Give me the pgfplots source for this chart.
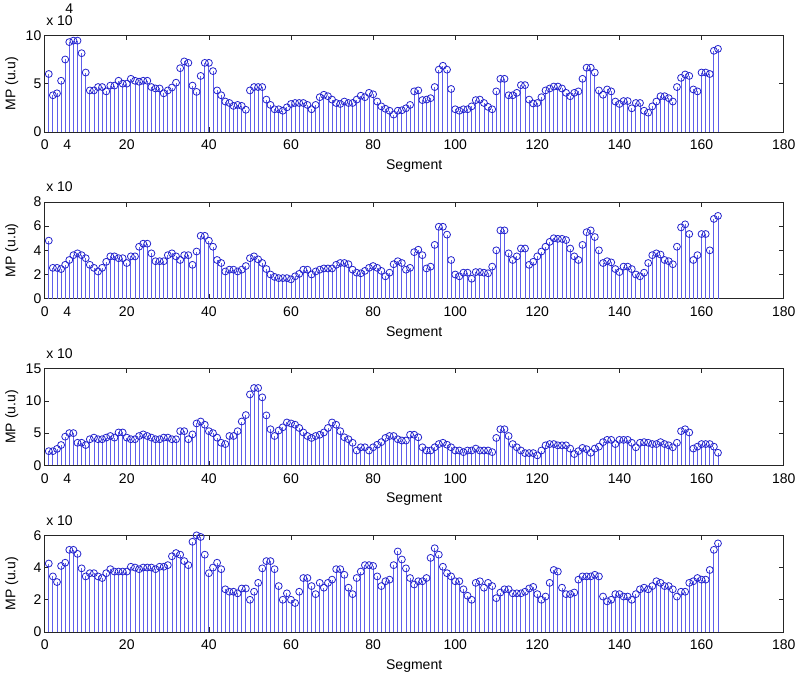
\documentclass[border=0pt]{standalone}
\usepackage{fontspec}
\setmainfont{Liberation Sans}
\usepackage{pgfplots}
\pgfplotsset{compat=1.18}
\definecolor{stemc}{RGB}{95,95,235}
\definecolor{mkc}{RGB}{35,35,205}
\newcommand{\fs}{\fontsize{10.5}{12}\selectfont}
\pgfplotsset{mp/.style={
  scale only axis, width=554.25pt, height=72.5pt, anchor=south west,
  xmin=0, xmax=180, ymin=0,
  tick align=inside, major tick length=3.5pt,
  axis line style={black!85, line width=0.5pt},
  every tick/.style={black!85, line width=0.5pt},
  tick label style={font=\fs},
  xticklabel style={yshift=-2.5pt},
  yticklabel style={xshift=1pt},
  label style={font=\fs},
  /pgf/number format/assume math mode=true,
  scaled y ticks=false,
  xlabel={Segment}, ylabel={MP (u.u)},
  xlabel style={at={(rel axis cs:0.5,0)}, anchor=center, yshift=-25.5pt},
  ylabel style={at={([xshift=-24.75pt]rel axis cs:0,0.5)}, anchor=center},
  clip=false,
},
mpstem/.style={ycomb, draw=stemc, color=stemc, line width=0.65pt, mark=o, mark size=2.6pt,
  mark options={solid, draw=mkc, line width=0.6pt, fill=none}},
fourtick/.style={xtick={0,20,40,60,80,100,120,140,160,180},
  extra x ticks={5.5}, extra x tick labels={4},
  extra x tick style={major tick length=0pt}}
}
\begin{document}
\begin{tikzpicture}
\path[use as bounding box] (0,0) rectangle (598.5pt,505.5pt);
% ---------------- panel 1
\begin{axis}[mp, fourtick, at={(33.5pt,406.5pt)}, ymax=10, ytick={0,5,10}]
\addplot[mpstem] coordinates {
(1,6.0)(2,3.8)(3,4.0)(4,5.3)(5,7.5)(6,9.3)(7,9.45)(8,9.45)(9,8.15)(10,6.15)
(11,4.3)(12,4.3)(13,4.65)(14,4.65)(15,4.2)(16,4.8)(17,4.8)(18,5.3)(19,5.0)(20,5.0)
(21,5.5)(22,5.3)(23,5.2)(24,5.3)(25,5.3)(26,4.65)(27,4.5)(28,4.5)(29,4.0)(30,4.3)
(31,4.6)(32,5.1)(33,6.6)(34,7.3)(35,7.15)(36,4.8)(37,4.15)(38,5.8)(39,7.15)(40,7.15)
(41,6.3)(42,4.3)(43,3.8)(44,3.15)(45,3.0)(46,2.7)(47,2.8)(48,2.7)(49,2.3)(50,4.3)
(51,4.65)(52,4.65)(53,4.65)(54,3.35)(55,2.8)(56,2.35)(57,2.35)(58,2.2)(59,2.55)(60,2.9)
(61,3.0)(62,3.0)(63,3.0)(64,2.8)(65,2.35)(66,2.8)(67,3.6)(68,3.85)(69,3.7)(70,3.35)
(71,3.0)(72,2.9)(73,3.15)(74,3.0)(75,3.0)(76,3.35)(77,3.75)(78,3.6)(79,4.05)(80,3.9)
(81,3.15)(82,2.65)(83,2.4)(84,2.2)(85,1.8)(86,2.2)(87,2.25)(88,2.45)(89,2.8)(90,4.2)
(91,4.3)(92,3.3)(93,3.35)(94,3.5)(95,4.65)(96,6.45)(97,6.85)(98,6.45)(99,4.45)(100,2.35)
(101,2.2)(102,2.35)(103,2.35)(104,2.65)(105,3.3)(106,3.35)(107,3.0)(108,2.6)(109,2.35)(110,4.2)
(111,5.5)(112,5.5)(113,3.8)(114,3.8)(115,4.05)(116,4.85)(117,4.85)(118,3.35)(119,2.95)(120,3.0)
(121,3.6)(122,4.3)(123,4.5)(124,4.7)(125,4.7)(126,4.5)(127,4.05)(128,3.7)(129,4.05)(130,4.2)
(131,5.5)(132,6.65)(133,6.65)(134,6.15)(135,4.3)(136,3.85)(137,4.4)(138,4.2)(139,3.15)(140,2.9)
(141,3.2)(142,3.2)(143,2.45)(144,3.0)(145,3.0)(146,2.2)(147,2.0)(148,2.65)(149,3.15)(150,3.7)
(151,3.7)(152,3.5)(153,3.15)(154,4.65)(155,5.6)(156,5.95)(157,5.8)(158,4.4)(159,4.2)(160,6.15)
(161,6.15)(162,6.0)(163,8.4)(164,8.6)};
\node[anchor=base west, inner sep=0pt, font=\fs] at (rel axis cs:0,1) [xshift=1pt, yshift=7.5pt] {x 10};
\node[anchor=base, inner sep=0pt, font=\fs] at (rel axis cs:0,1) [xshift=18.5pt, yshift=16.5pt] {4};
\end{axis}
% ---------------- panel 2
\begin{axis}[mp, fourtick, at={(33.5pt,281.5pt)}, ymax=8, ytick={0,2,4,6,8}]
\addplot[mpstem] coordinates {
(1,4.8)(2,2.55)(3,2.55)(4,2.45)(5,2.8)(6,3.2)(7,3.6)(8,3.75)(9,3.6)(10,3.35)
(11,2.8)(12,2.55)(13,2.25)(14,2.55)(15,3.05)(16,3.5)(17,3.5)(18,3.35)(19,3.35)(20,2.95)
(21,3.5)(22,3.5)(23,4.3)(24,4.55)(25,4.55)(26,3.75)(27,3.1)(28,3.1)(29,3.1)(30,3.6)
(31,3.75)(32,3.5)(33,3.2)(34,3.6)(35,3.6)(36,2.8)(37,3.9)(38,5.2)(39,5.2)(40,4.8)
(41,4.3)(42,3.2)(43,2.95)(44,2.25)(45,2.4)(46,2.4)(47,2.25)(48,2.4)(49,2.7)(50,3.35)
(51,3.5)(52,3.25)(53,2.95)(54,2.45)(55,2.0)(56,1.8)(57,1.7)(58,1.7)(59,1.7)(60,1.6)
(61,1.85)(62,2.05)(63,2.4)(64,2.4)(65,2.0)(66,2.25)(67,2.4)(68,2.5)(69,2.5)(70,2.5)
(71,2.8)(72,2.95)(73,2.95)(74,2.85)(75,2.4)(76,2.15)(77,2.1)(78,2.3)(79,2.55)(80,2.7)
(81,2.55)(82,2.3)(83,1.85)(84,2.15)(85,2.85)(86,3.1)(87,2.95)(88,2.4)(89,2.55)(90,3.85)
(91,4.05)(92,3.6)(93,2.5)(94,2.65)(95,4.45)(96,5.95)(97,5.95)(98,5.3)(99,3.2)(100,2.0)
(101,1.85)(102,2.15)(103,2.15)(104,1.65)(105,2.2)(106,2.2)(107,2.15)(108,2.1)(109,2.65)(110,4.0)
(111,5.65)(112,5.65)(113,3.75)(114,3.2)(115,3.5)(116,4.15)(117,4.15)(118,2.8)(119,3.05)(120,3.5)
(121,3.9)(122,4.3)(123,4.7)(124,5.0)(125,4.95)(126,4.95)(127,4.85)(128,4.15)(129,3.5)(130,3.2)
(131,4.45)(132,5.5)(133,5.65)(134,5.1)(135,4.0)(136,2.95)(137,3.1)(138,3.0)(139,2.45)(140,2.2)
(141,2.65)(142,2.65)(143,2.45)(144,2.0)(145,1.85)(146,2.15)(147,2.95)(148,3.6)(149,3.75)(150,3.65)
(151,3.2)(152,3.1)(153,2.85)(154,4.3)(155,5.9)(156,6.15)(157,5.35)(158,3.2)(159,3.6)(160,5.35)
(161,5.35)(162,4.0)(163,6.6)(164,6.85)};
\node[anchor=base west, inner sep=0pt, font=\fs] at (rel axis cs:0,1) [xshift=1pt, yshift=7.5pt] {x 10};
\end{axis}
% ---------------- panel 3
\begin{axis}[mp, fourtick, at={(33.5pt,156.5pt)}, ymax=15, ytick={0,5,10,15}]
\addplot[mpstem] coordinates {
(1,2.2)(2,2.2)(3,2.55)(4,3.15)(5,4.45)(6,5.0)(7,5.0)(8,3.5)(9,3.5)(10,3.15)
(11,4.05)(12,4.3)(13,4.05)(14,4.05)(15,4.3)(16,4.55)(17,4.3)(18,5.1)(19,5.1)(20,4.3)
(21,4.05)(22,4.05)(23,4.55)(24,4.8)(25,4.55)(26,4.3)(27,4.05)(28,4.05)(29,4.3)(30,4.3)
(31,4.05)(32,4.05)(33,5.3)(34,5.3)(35,4.05)(36,4.8)(37,6.5)(38,6.8)(39,6.3)(40,5.3)
(41,5.0)(42,4.3)(43,3.5)(44,3.3)(45,4.55)(46,4.55)(47,5.3)(48,6.8)(49,7.8)(50,11.0)
(51,12.0)(52,12.0)(53,10.55)(54,7.75)(55,5.6)(56,4.55)(57,5.4)(58,5.9)(59,6.65)(60,6.5)
(61,6.3)(62,5.8)(63,5.1)(64,4.55)(65,4.25)(66,4.55)(67,4.75)(68,5.1)(69,5.8)(70,6.65)
(71,6.3)(72,5.3)(73,4.35)(74,4.05)(75,3.5)(76,2.3)(77,2.8)(78,2.8)(79,2.3)(80,2.8)
(81,3.2)(82,3.6)(83,4.25)(84,4.55)(85,4.55)(86,4.05)(87,3.85)(88,3.85)(89,4.75)(90,4.75)
(91,4.35)(92,2.8)(93,2.3)(94,2.3)(95,2.8)(96,3.3)(97,3.5)(98,3.2)(99,2.8)(100,2.3)
(101,2.3)(102,2.05)(103,2.3)(104,2.3)(105,2.6)(106,2.3)(107,2.3)(108,2.3)(109,2.05)(110,4.25)
(111,5.6)(112,5.6)(113,4.55)(114,3.3)(115,2.8)(116,2.3)(117,1.9)(118,1.9)(119,1.9)(120,1.55)
(121,2.3)(122,3.1)(123,3.3)(124,3.3)(125,3.1)(126,3.1)(127,3.1)(128,2.6)(129,1.75)(130,2.2)
(131,2.7)(132,2.5)(133,1.95)(134,2.6)(135,2.9)(136,3.6)(137,3.95)(138,3.95)(139,3.3)(140,3.95)
(141,3.95)(142,3.95)(143,3.5)(144,2.8)(145,3.5)(146,3.6)(147,3.5)(148,3.3)(149,3.3)(150,3.6)
(151,3.3)(152,3.1)(153,2.8)(154,3.5)(155,5.3)(156,5.6)(157,5.1)(158,2.6)(159,2.9)(160,3.3)
(161,3.3)(162,3.3)(163,2.9)(164,1.95)};
\node[anchor=base west, inner sep=0pt, font=\fs] at (rel axis cs:0,1) [xshift=1pt, yshift=7.5pt] {x 10};
\end{axis}
% ---------------- panel 4
\begin{axis}[mp, at={(33.5pt,31.5pt)}, ymax=6, ytick={0,2,4,6},
  xtick={0,20,40,60,80,100,120,140,160,180}]
\addplot[mpstem] coordinates {
(1,4.25)(2,3.45)(3,3.1)(4,4.1)(5,4.3)(6,5.1)(7,5.1)(8,4.85)(9,3.95)(10,3.45)
(11,3.65)(12,3.65)(13,3.45)(14,3.35)(15,3.65)(16,3.9)(17,3.75)(18,3.75)(19,3.75)(20,3.75)
(21,4.05)(22,4.0)(23,3.9)(24,4.0)(25,4.0)(26,4.0)(27,3.9)(28,4.05)(29,4.05)(30,4.15)
(31,4.7)(32,4.9)(33,4.8)(34,4.4)(35,4.15)(36,5.6)(37,6.0)(38,5.9)(39,4.8)(40,3.65)
(41,4.0)(42,4.3)(43,3.9)(44,2.65)(45,2.5)(46,2.5)(47,2.4)(48,2.7)(49,2.7)(50,2.0)
(51,2.5)(52,3.05)(53,3.95)(54,4.4)(55,4.4)(56,3.9)(57,2.85)(58,2.0)(59,2.4)(60,2.0)
(61,1.8)(62,2.5)(63,3.35)(64,3.35)(65,2.85)(66,2.35)(67,3.05)(68,2.75)(69,3.05)(70,3.25)
(71,3.9)(72,3.9)(73,3.55)(74,2.75)(75,2.35)(76,3.35)(77,3.75)(78,4.15)(79,4.15)(80,4.1)
(81,3.45)(82,2.85)(83,3.15)(84,3.25)(85,4.15)(86,5.0)(87,4.5)(88,3.95)(89,3.35)(90,2.95)
(91,3.15)(92,3.15)(93,3.35)(94,4.6)(95,5.2)(96,4.8)(97,4.05)(98,3.65)(99,3.45)(100,3.15)
(101,3.15)(102,2.65)(103,2.25)(104,2.0)(105,3.05)(106,3.15)(107,2.75)(108,3.05)(109,2.85)(110,2.1)
(111,2.45)(112,2.65)(113,2.65)(114,2.4)(115,2.4)(116,2.4)(117,2.5)(118,2.7)(119,2.8)(120,2.35)
(121,2.0)(122,2.2)(123,3.05)(124,3.85)(125,3.75)(126,2.75)(127,2.35)(128,2.35)(129,2.45)(130,3.25)
(131,3.45)(132,3.45)(133,3.45)(134,3.55)(135,3.45)(136,2.2)(137,1.9)(138,2.0)(139,2.35)(140,2.35)
(141,2.2)(142,2.2)(143,2.0)(144,2.35)(145,2.65)(146,2.75)(147,2.65)(148,2.85)(149,3.15)(150,3.05)
(151,2.85)(152,2.85)(153,2.65)(154,2.2)(155,2.5)(156,2.5)(157,3.05)(158,3.15)(159,3.35)(160,3.25)
(161,3.25)(162,3.85)(163,5.1)(164,5.5)};
\node[anchor=base west, inner sep=0pt, font=\fs] at (rel axis cs:0,1) [xshift=1pt, yshift=7.5pt] {x 10};
\end{axis}
\end{tikzpicture}
\end{document}
